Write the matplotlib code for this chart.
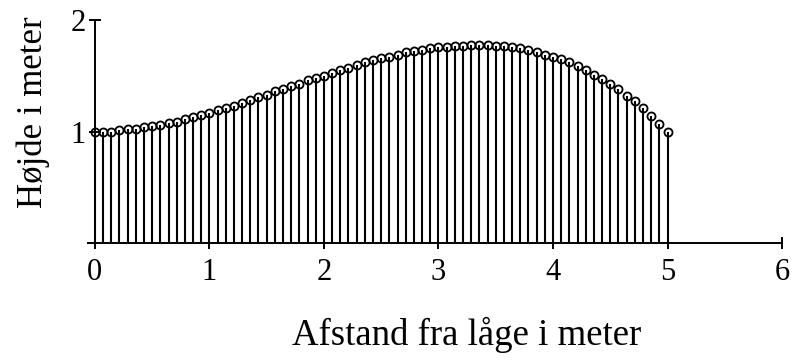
import numpy as np
import matplotlib
matplotlib.use('Agg')
import matplotlib.pyplot as plt

# heights, one per stem, from 0 m to 5 m
heights = [1.00, 1.00, 1.00, 1.01, 1.02, 1.02, 1.04, 1.05, 1.06, 1.08,
           1.09, 1.11, 1.13, 1.15, 1.17, 1.19, 1.21, 1.23, 1.26, 1.28,
           1.31, 1.33, 1.36, 1.38, 1.41, 1.43, 1.46, 1.48, 1.50, 1.53,
           1.55, 1.57, 1.60, 1.62, 1.64, 1.66, 1.67, 1.69, 1.71, 1.72,
           1.73, 1.75, 1.76, 1.76, 1.77, 1.77, 1.78, 1.78, 1.78, 1.77,
           1.77, 1.76, 1.75, 1.73, 1.71, 1.69, 1.67, 1.65, 1.62, 1.59,
           1.55, 1.51, 1.47, 1.43, 1.38, 1.32, 1.27, 1.21, 1.14, 1.07,
           1.00]
x_start, x_end = 0, 5
xticks = [0, 1, 2, 3, 4, 5, 6]
yticks = [1, 2]

plt.rcParams['font.family'] = ['Liberation Serif', 'DejaVu Serif']

fig = plt.figure(figsize=(7.95, 3.6), dpi=100)
ax = fig.add_axes([0.1107, 0.325, 0.873, 0.619])

x = np.linspace(x_start, x_end, len(heights))
markerline, stemlines, baseline = ax.stem(x, heights, linefmt='k-', markerfmt='ko', basefmt=' ')
stemlines.set_linewidth(1.5)
markerline.set_markerfacecolor('none')
markerline.set_markeredgecolor('black')
markerline.set_markersize(5.8)
markerline.set_markeredgewidth(1.3)

ax.set_xlim(-0.06, 6)
ax.set_ylim(0, 2)
ax.spines['top'].set_visible(False)
ax.spines['right'].set_visible(False)
ax.spines['left'].set_position(('data', 0))
ax.spines['left'].set_bounds(0, 2)
for s in ('left', 'bottom'):
    ax.spines[s].set_linewidth(1.4)

ax.set_xticks(xticks)
ax.set_yticks(yticks)
ax.tick_params(direction='inout', length=9, width=1.4, labelsize=22)
ax.tick_params(axis='x', pad=6)
ax.tick_params(axis='y', pad=2)

ax.set_xlabel('Afstand fra låge i meter', fontsize=26.5)
ax.xaxis.set_label_coords(0.545, -0.33)
ax.set_ylabel('Højde i meter', fontsize=25)
ax.yaxis.set_label_coords(-0.055, 0.587)

fig.savefig('out.png', dpi=100)
